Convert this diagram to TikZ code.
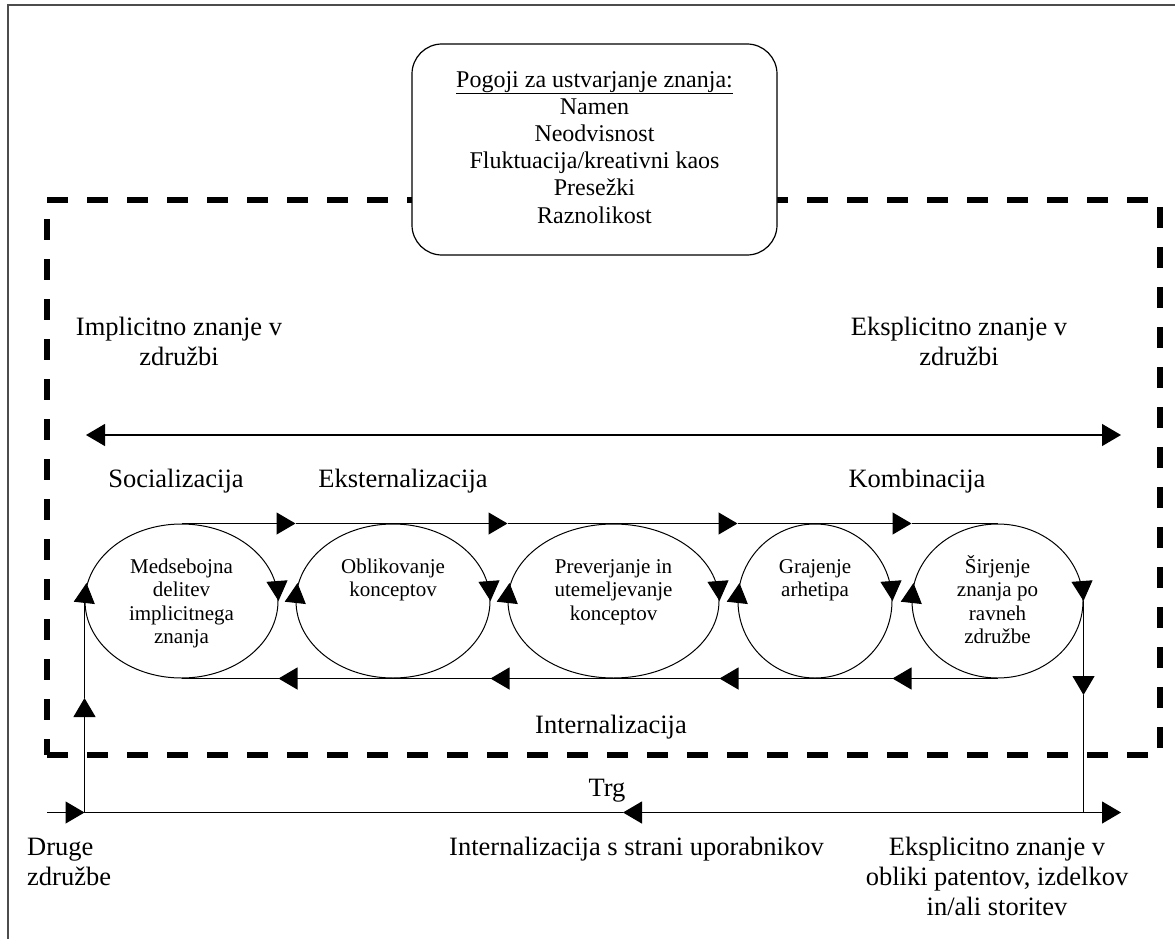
\documentclass[tikz,border=0pt]{standalone}
\usepackage{fontspec}
\setmainfont{Liberation Serif}
\usetikzlibrary{arrows.meta,shapes.geometric,calc}

\begin{document}
\begin{tikzpicture}[x=1pt,y=-1pt,
  lbl/.style={font=\fontsize{26.5}{30}\selectfont, align=center, inner sep=0pt, anchor=base},
  etext/.style={font=\fontsize{21}{23.5}\selectfont, align=center, inner sep=0pt, anchor=base},
  boxtext/.style={font=\fontsize{24}{27.2}\selectfont, align=center, inner sep=0pt, anchor=base},
  stage/.style={draw, ellipse, inner sep=0pt, line width=1pt, minimum height=154pt},
  tipA/.style={-{Triangle[length=19pt,width=22pt]}},
  flow/.style={line width=1.2pt, tipA},
  plain/.style={line width=1.2pt},
  sidetip/.style={line width=1pt, -{Triangle[length=20pt,width=21pt]}},
  org/.style={draw, line width=5.5pt, dash pattern=on 21pt off 19pt, inner sep=0pt},
  frameline/.style={line width=1.5pt, draw=black!70},
]
\useasboundingbox (0,0) rectangle (1175,939);

% page frame
\draw[frameline] (1175,5) -- (8,5) -- (8,939);

% organisation boundary
\node[org, minimum width=1113pt, minimum height=555pt] (orgbox) at (603.5,477.5) {};

% conditions box (multi-line nodes are placed by the baseline of their last line)
\node[draw, fill=white, line width=1.2pt, rounded corners=30pt,
      minimum width=365pt, minimum height=211pt] (cond) at (594.5,149.5) {};
\node[boxtext] (condtxt) at (594.5,223) {\underline{Pogoji za ustvarjanje znanja:}\\Namen\\Neodvisnost\\Fluktuacija/kreativni kaos\\Presežki\\Raznolikost};

% knowledge labels
\node[lbl] (impl) at (179,365) {Implicitno znanje v\\združbi};
\node[lbl] (expl) at (959,365) {Eksplicitno znanje v\\združbi};
\coordinate (ka) at (86,435);
\coordinate (kb) at (1121,435);
\draw[line width=1.2pt, {Triangle[length=19pt,width=22pt]}-{Triangle[length=19pt,width=22pt]}] (ka) -- (kb);

% phase labels
\node[lbl] (soc) at (176,487) {Socializacija};
\node[lbl] (ext) at (403,487) {Eksternalizacija};
\node[lbl] (komb) at (917,487) {Kombinacija};
\node[lbl] (intl) at (611,733) {Internalizacija};

% stages
\node[stage, minimum width=193pt] (e1) at (181.5,601) {};
\node[stage, minimum width=194pt] (e2) at (393,601) {};
\node[stage, minimum width=211pt] (e3) at (613.5,601) {};
\node[stage, minimum width=154pt] (e4) at (815,601) {};
\node[stage, minimum width=171pt] (e5) at (997.5,601) {};

\node[etext] (t1) at (181.5,643.5) {Medsebojna\\delitev\\implicitnega\\znanja};
\node[etext] (t2) at (393,596.5) {Oblikovanje\\konceptov};
\node[etext] (t3) at (613.5,620) {Preverjanje in\\utemeljevanje\\konceptov};
\node[etext] (t4) at (815,596.5) {Grajenje\\arhetipa};
\node[etext] (t5) at (997.5,643.5) {Širjenje\\znanja po\\ravneh\\združbe};

% circulation marks on each stage
\foreach \e in {e1,e2,e3,e4,e5}{
  \draw[sidetip] ($(\e.east)+(-1.5,-20)$) -- (\e.east);
  \draw[sidetip] (\e.west) -- ($(\e.west)+(2,-18)$);
}

% upper flow
\draw[flow] (e1.north) -- (e1.north -| e2.west);
\draw[flow] (e1.north -| e2.west) -- (e1.north -| e3.west);
\draw[flow] (e1.north -| e3.west) -- (e1.north -| e4.west);
\draw[flow] (e1.north -| e4.west) -- (e1.north -| e5.west);
\draw[plain] (e1.north -| e5.west) -- (e5.north);

% lower flow
\draw[flow] (e5.south) -- (e5.south -| e4.east);
\draw[flow] (e5.south -| e4.east) -- (e5.south -| e3.east);
\draw[flow] (e5.south -| e3.east) -- (e5.south -| e2.east);
\draw[flow] (e5.south -| e2.east) -- (e5.south -| e1.east);
\draw[plain] (e5.south -| e1.east) -- (e1.south);

% market
\coordinate (inL) at (47,812.5);
\coordinate (jL) at (e1.west |- inL);
\coordinate (jR) at (e5.east |- inL);
\coordinate (outR) at (1121,812.5);
\coordinate (mT) at (623,812.5);
\coordinate (mL) at ($(e1.west)+(0,97)$);
\coordinate (mR) at ($(e5.east)+(0,94)$);

\draw[flow] (inL) -- (jL);
\draw[flow] (jL) -- (mL);
\draw[plain] (mL) -- (e1.west);
\draw[flow] (e5.east) -- (mR);
\draw[plain] (mR) -- (jR);
\draw[flow] (jR) -- (outR);
\draw[flow] (jR) -- (mT);
\draw[plain] (mT) -- (jL);

\node[lbl] (trg) at (607,796) {Trg};
\node[lbl, align=left, anchor=base west] (druge) at (27,885) {Druge\\združbe};
\node[lbl] (intu) at (636.5,855) {Internalizacija s strani uporabnikov};
\node[lbl] (eksp) at (997,915) {Eksplicitno znanje v\\obliki patentov, izdelkov\\in/ali storitev};
\end{tikzpicture}
\end{document}
